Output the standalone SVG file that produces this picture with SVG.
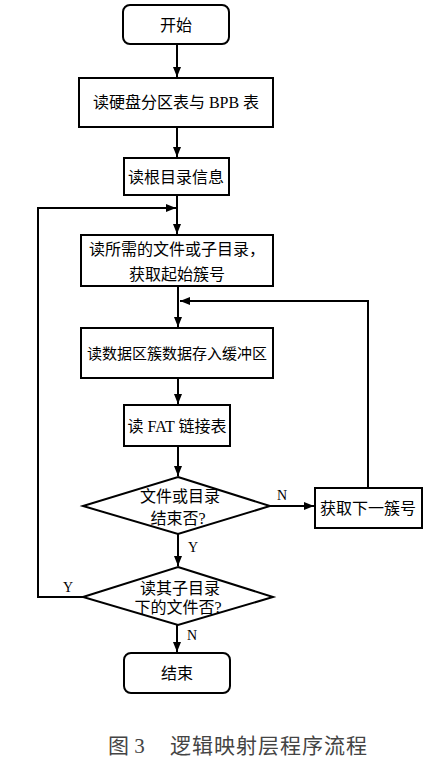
<svg xmlns="http://www.w3.org/2000/svg" width="446" height="757" viewBox="0 0 446 757">
<style>
.n{fill:#fff;stroke:#000;stroke-width:2}
.t{font-family:"Liberation Serif","Noto Sans CJK SC",serif;font-size:16px;fill:#000;text-anchor:middle;dominant-baseline:central}
.l{font-family:"Liberation Serif",serif;font-size:14px;fill:#000;text-anchor:middle;dominant-baseline:central}
.c{fill:none;stroke:#000;stroke-width:2}
.cap{font-family:"Liberation Serif","Noto Sans CJK SC",serif;font-size:21px;fill:#444;dominant-baseline:central}
</style>
<defs>
<marker id="a" markerWidth="10" markerHeight="8" refX="10" refY="4" orient="auto" markerUnits="userSpaceOnUse">
<path d="M0,0L10,4L0,8Z" fill="#000"/>
</marker>
</defs>
<rect width="446" height="757" fill="#fff"/>
<g id="connectors">
<path class="c" d="M177,44V77" marker-end="url(#a)"/>
<path class="c" d="M177,127V157" marker-end="url(#a)"/>
<path class="c" d="M177,195V234" marker-end="url(#a)"/>
<path class="c" d="M178,286V327" marker-end="url(#a)"/>
<path class="c" d="M178,378V404" marker-end="url(#a)"/>
<path class="c" d="M178,446V476" marker-end="url(#a)"/>
<path class="c" d="M270,506H314" marker-end="url(#a)"/>
<path class="c" d="M368,488V301H180" marker-end="url(#a)"/>
<path class="c" d="M178,534V566" marker-end="url(#a)"/>
<path class="c" d="M83,597H38V208H176" marker-end="url(#a)"/>
<path class="c" d="M177,625V652" marker-end="url(#a)"/>
<text class="l" x="282" y="495">N</text>
<text class="l" x="193" y="547">Y</text>
<text class="l" x="68" y="587">Y</text>
<text class="l" x="192" y="635">N</text>
</g>
<g id="start"><rect class="n" x="123" y="5" width="106" height="39" rx="7"/><text class="t" x="176" y="25">开始</text></g>
<g id="readPartition"><rect class="n" x="79" y="78" width="194" height="49"/><text class="t" x="176" y="102">读硬盘分区表与 BPB 表</text></g>
<g id="readRoot"><rect class="n" x="124" y="158" width="105" height="37"/><text class="t" x="176" y="177">读根目录信息</text></g>
<g id="readFile"><rect class="n" x="81" y="235" width="192" height="51"/><text class="t" x="177" y="249">读所需的文件或子目录，</text><text class="t" x="177" y="274">获取起始簇号</text></g>
<g id="readData"><rect class="n" x="81" y="328" width="192" height="50"/><text class="t" x="177" y="354" style="font-size:15px">读数据区簇数据存入缓冲区</text></g>
<g id="readFat"><rect class="n" x="124" y="405" width="106" height="41"/><text class="t" x="177" y="426">读 FAT 链接表</text></g>
<g id="endCheck"><path class="n" d="M178,477L270,506L178,534L83,506Z"/><text class="t" x="180" y="496">文件或目录</text><text class="t" x="178" y="518">结束否?</text></g>
<g id="nextCluster"><rect class="n" x="315" y="488" width="107" height="40"/><text class="t" x="368" y="508">获取下一簇号</text></g>
<g id="subdirCheck"><path class="n" d="M178,567L273,597L178,625L83,597Z"/><text class="t" x="180" y="588">读其子目录</text><text class="t" x="178" y="607">下的文件否?</text></g>
<g id="end"><rect class="n" x="124" y="653" width="106" height="40" rx="7"/><text class="t" x="177" y="673">结束</text></g>
<text class="cap" x="108" y="746">图 3</text>
<text class="cap" x="170" y="746" style="letter-spacing:1px">逻辑映射层程序流程</text>
</svg>
